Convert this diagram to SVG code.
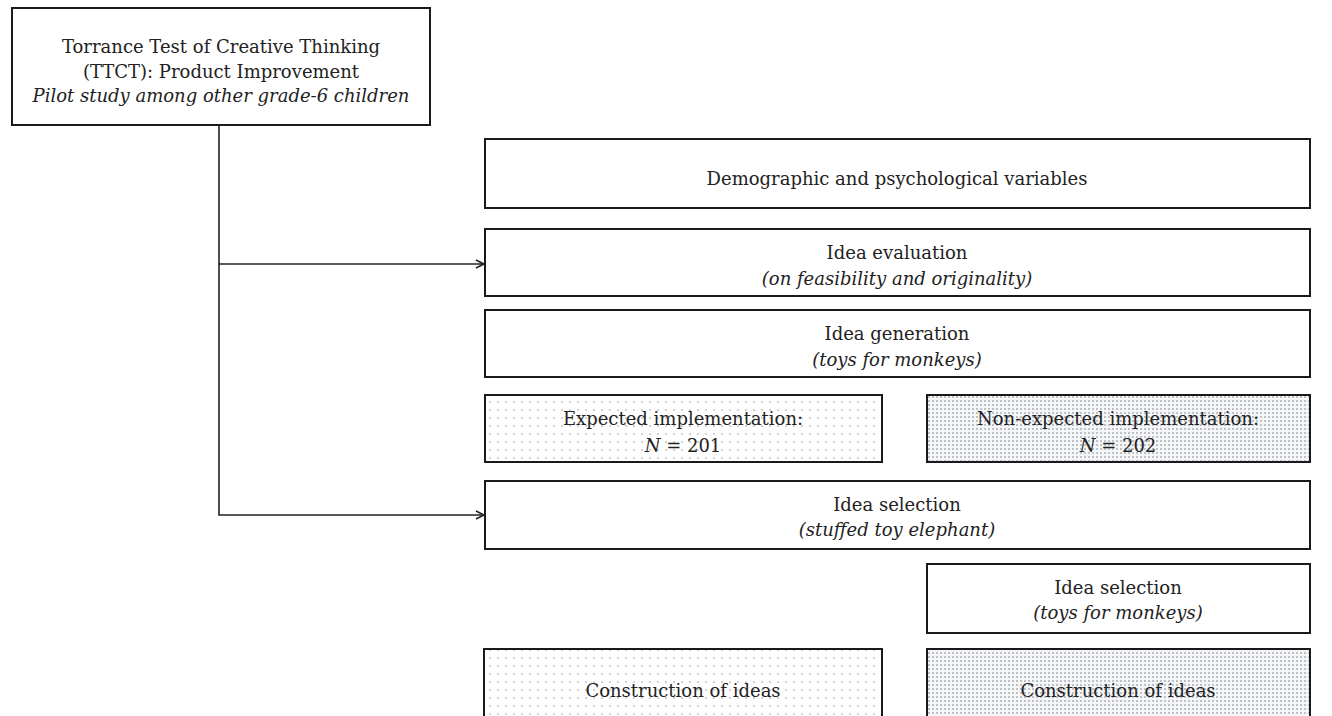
<svg xmlns="http://www.w3.org/2000/svg" width="1332" height="716" viewBox="0 0 1332 716">
<style>
.box{fill:#fff;stroke:#1a1a1a;stroke-width:2}
.t{font-family:"DejaVu Serif","Liberation Serif",serif;font-size:18px;fill:#222;text-anchor:middle}
.i{font-style:italic}
.conn{fill:none;stroke:#222;stroke-width:1.6}
</style>
<defs>
<pattern id="sparse" width="8" height="8" patternUnits="userSpaceOnUse">
<rect width="8" height="8" fill="#fff"/>
<circle cx="2" cy="2" r="0.8" fill="#9a9a9a"/>
</pattern>
<pattern id="dense" width="4" height="4" patternUnits="userSpaceOnUse">
<rect width="4" height="4" fill="#f4f6f8"/>
<circle cx="1" cy="1" r="0.8" fill="#7a7f88"/>
</pattern>
<marker id="arr" markerWidth="12" markerHeight="12" refX="10" refY="6" orient="auto" markerUnits="userSpaceOnUse">
<path d="M2,2 L10,6 L2,10" fill="none" stroke="#222" stroke-width="1.6"/>
</marker>
</defs>
<rect width="1332" height="716" fill="#fff"/>
<g id="connectors">
<path class="conn" d="M219,125 V515 H484" marker-end="url(#arr)"/>
<path class="conn" d="M219,264 H484" marker-end="url(#arr)"/>
</g>
<g id="ttct">
<rect class="box" x="12" y="8" width="418" height="117"/>
<text class="t" x="221" y="53">Torrance Test of Creative Thinking</text>
<text class="t" x="221" y="78">(TTCT): Product Improvement</text>
<text class="t i" x="221" y="102">Pilot study among other grade-6 children</text>
</g>
<g id="demographic">
<rect class="box" x="485" y="139" width="825" height="69"/>
<text class="t" x="897" y="185">Demographic and psychological variables</text>
</g>
<g id="evaluation">
<rect class="box" x="485" y="229" width="825" height="67"/>
<text class="t" x="897" y="259">Idea evaluation</text>
<text class="t i" x="897" y="285">(on feasibility and originality)</text>
</g>
<g id="generation">
<rect class="box" x="485" y="310" width="825" height="67"/>
<text class="t" x="897" y="340">Idea generation</text>
<text class="t i" x="897" y="366">(toys for monkeys)</text>
</g>
<g id="expected">
<rect class="box" x="485" y="395" width="397" height="67" style="fill:url(#sparse)"/>
<text class="t" x="683" y="425">Expected implementation:</text>
<text class="t" x="683" y="452"><tspan class="i">N</tspan> = 201</text>
</g>
<g id="nonexpected">
<rect class="box" x="927" y="395" width="383" height="67" style="fill:url(#dense)"/>
<text class="t" x="1118" y="425">Non-expected implementation:</text>
<text class="t" x="1118" y="452"><tspan class="i">N</tspan> = 202</text>
</g>
<g id="selection-elephant">
<rect class="box" x="485" y="481" width="825" height="68"/>
<text class="t" x="897" y="511">Idea selection</text>
<text class="t i" x="897" y="536">(stuffed toy elephant)</text>
</g>
<g id="selection-toys">
<rect class="box" x="927" y="564" width="383" height="69"/>
<text class="t" x="1118" y="594">Idea selection</text>
<text class="t i" x="1118" y="619">(toys for monkeys)</text>
</g>
<g id="construction-expected">
<rect class="box" x="484" y="649" width="398" height="80" style="fill:url(#sparse)"/>
<text class="t" x="683" y="697">Construction of ideas</text>
</g>
<g id="construction-nonexpected">
<rect class="box" x="927" y="649" width="383" height="80" style="fill:url(#dense)"/>
<text class="t" x="1118" y="697">Construction of ideas</text>
</g>
</svg>
